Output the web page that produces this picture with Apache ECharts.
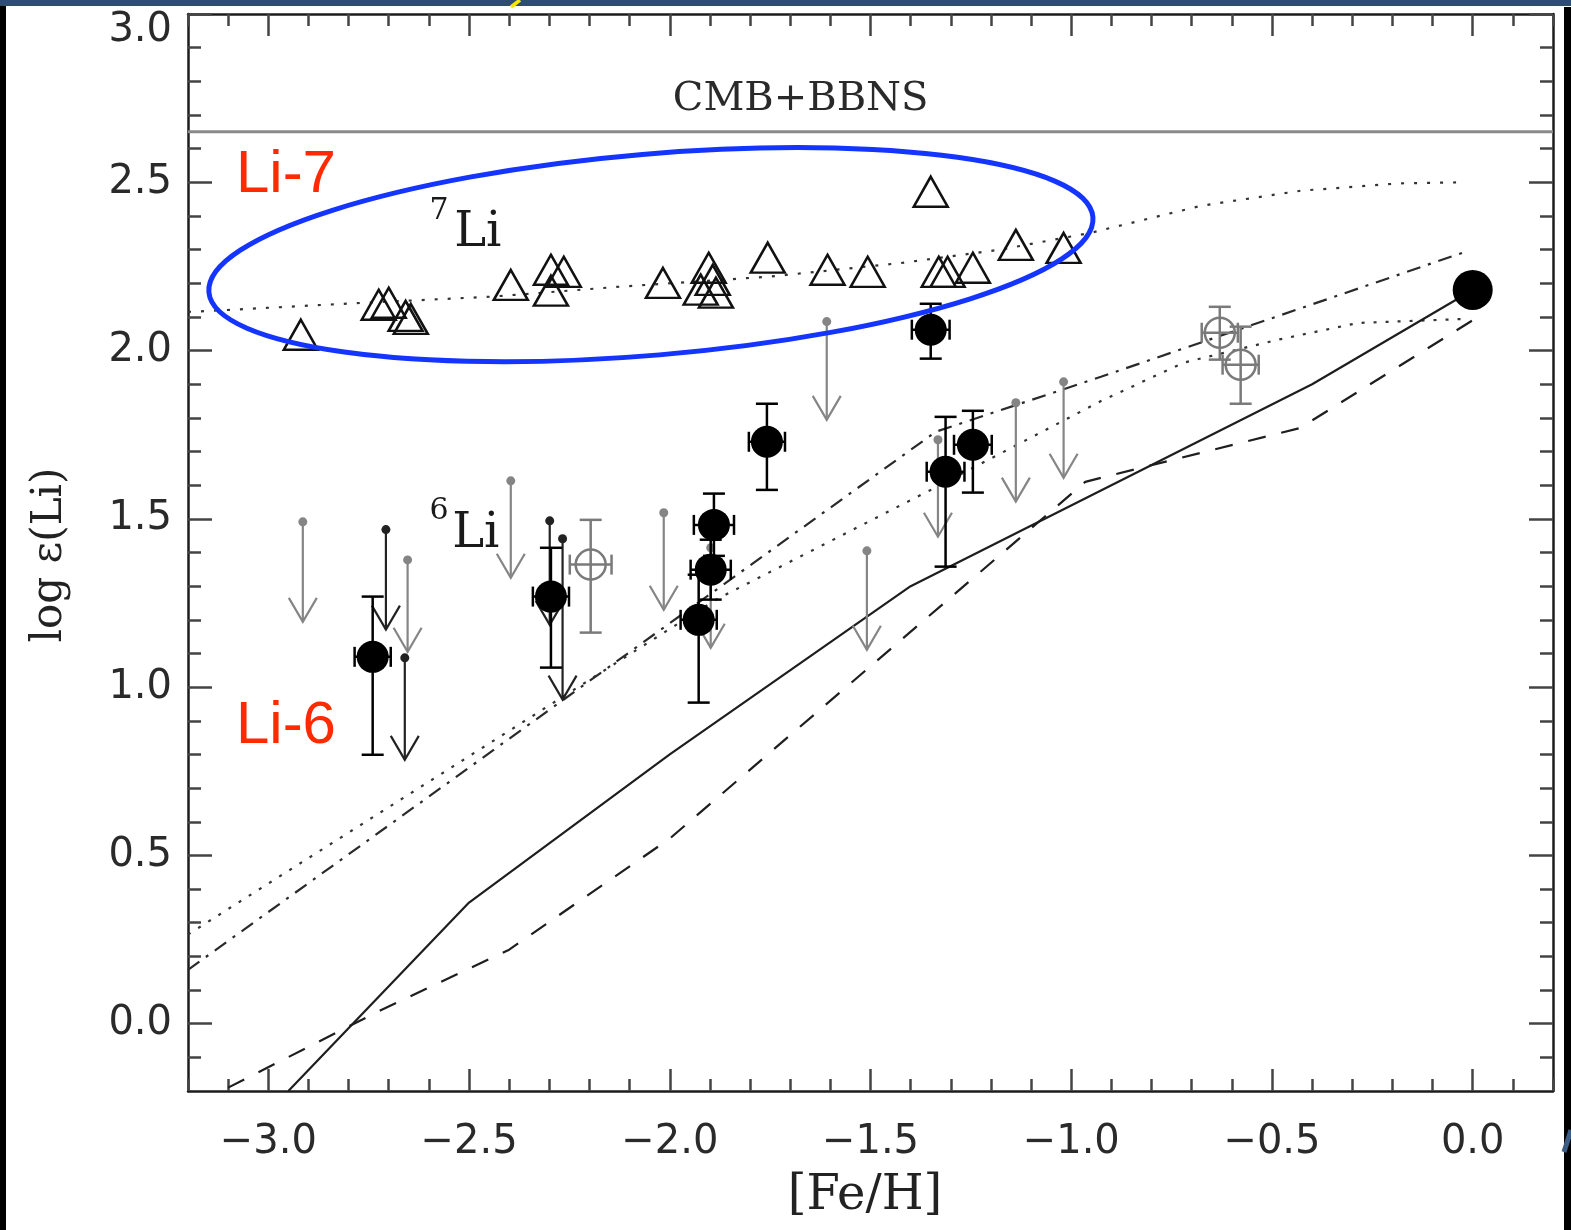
<!DOCTYPE html>
<html>
<head>
<meta charset="utf-8">
<title>Lithium abundances vs [Fe/H]</title>
<script src="https://cdn.jsdelivr.net/npm/echarts@6/dist/echarts.min.js"></script>
<style>
  html, body { margin: 0; padding: 0; background: #fff; }
  #chart { width: 1571px; height: 1230px; }
</style>
</head>
<body>
<div id="chart"></div>
<script>
// ---- axis ticks ----
const xMajorTicks = [-3.0, -2.5, -2.0, -1.5, -1.0, -0.5, 0.0];
const xMinorTicks = [-3.2, -3.1, -2.9, -2.8, -2.7, -2.6, -2.4, -2.3, -2.2, -2.1,
                     -1.9, -1.8, -1.7, -1.6, -1.4, -1.3, -1.2, -1.1, -0.9, -0.8,
                     -0.7, -0.6, -0.4, -0.3, -0.2, -0.1, 0.1, 0.2];
const yMajorTicks = [0.0, 0.5, 1.0, 1.5, 2.0, 2.5, 3.0];
const yMinorTicks = [-0.1, 0.1, 0.2, 0.3, 0.4, 0.6, 0.7, 0.8, 0.9, 1.1, 1.2, 1.3, 1.4,
                     1.6, 1.7, 1.8, 1.9, 2.1, 2.2, 2.3, 2.4, 2.6, 2.7, 2.8, 2.9];

// ---- primordial plateau (CMB + BBN) ----
const cmbLevel = 2.65;

// ---- 7Li abundances [Fe/H, log eps] ----
const li7Stars = [
  [-2.919, 2.047], [-2.725, 2.136], [-2.700, 2.142], [-2.658, 2.103], [-2.645, 2.094],
  [-2.396, 2.195], [-2.296, 2.240], [-2.264, 2.234], [-2.296, 2.178], [-2.017, 2.201],
  [-1.923, 2.181], [-1.903, 2.246], [-1.893, 2.210], [-1.885, 2.172], [-1.756, 2.276],
  [-1.607, 2.240], [-1.507, 2.234], [-1.350, 2.472], [-1.330, 2.234], [-1.308, 2.234],
  [-1.245, 2.246], [-1.138, 2.314], [-1.019, 2.305]
];

// ---- 6Li detections [Fe/H, log eps, lower, upper, [Fe/H] error] ----
const li6Detections = [
  [-2.740, 1.090, 0.799, 1.269, 0.045],
  [-2.296, 1.269, 1.058, 1.414, 0.045],
  [-1.758, 1.729, 1.586, 1.842, 0.045],
  [-1.890, 1.482, 1.390, 1.575, 0.050],
  [-1.898, 1.349, 1.260, 1.438, 0.050],
  [-1.928, 1.200, 0.954, 1.334, 0.045],
  [-1.350, 2.062, 1.976, 2.139, 0.047],
  [-1.313, 1.640, 1.358, 1.803, 0.047],
  [-1.245, 1.720, 1.578, 1.821, 0.047]
];

// ---- 6Li, other sample [Fe/H, log eps, lower, upper, [Fe/H] error] ----
const li6Other = [
  [-2.197, 1.364, 1.162, 1.497, 0.052],
  [-0.630, 2.053, 1.973, 2.130, 0.045],
  [-0.578, 1.958, 1.842, 2.071, 0.045]
];

// ---- 6Li upper limits [Fe/H, limit, arrow tip] ----
const li6LimitsGrey = [
  [-2.914, 1.491, 1.194], [-2.653, 1.378, 1.105], [-2.396, 1.613, 1.325],
  [-2.015, 1.518, 1.230], [-1.898, 1.414, 1.117], [-1.609, 2.086, 1.794],
  [-1.509, 1.405, 1.111], [-1.332, 1.735, 1.447], [-1.138, 1.845, 1.551],
  [-1.019, 1.907, 1.622]
];
const li6LimitsBlack = [
  [-2.707, 1.468, 1.171], [-2.660, 1.087, 0.784], [-2.299, 1.494, 1.185],
  [-2.267, 1.441, 0.963]
];

// ---- solar system value ----
const solarLi = [[0.0, 2.18]];

// ---- evolution models ----
const model7Li = [
  [-3.20, 2.115], [-3.143, 2.118], [-2.795, 2.140], [-2.446, 2.160], [-2.122, 2.190],
  [-1.748, 2.220], [-1.425, 2.260], [-1.176, 2.300], [-0.951, 2.350], [-0.677, 2.430],
  [-0.428, 2.475], [-0.180, 2.497], [-0.017, 2.500]
];
const model6LiDashDot = [[-3.2, 0.16], [-1.337, 1.759], [-0.926, 1.922], [-0.017, 2.294]];
const model6LiDotted = [
  [-3.2, 0.265], [-1.885, 1.26], [-1.35, 1.586], [-0.926, 1.85], [-0.72, 1.964],
  [-0.486, 2.032], [-0.286, 2.082], [-0.02, 2.094]
];
const model6LiSolid = [[-2.95, -0.2], [-2.5, 0.36], [-2.0, 0.80], [-1.4, 1.30], [-0.4, 1.90], [0.0, 2.18]];
const model6LiDashed = [
  [-3.10, -0.19], [-2.72, 0.04], [-2.40, 0.22], [-2.0, 0.55], [-0.965, 1.61],
  [-0.43, 1.77], [0.0, 2.09]
];

// ---- styling ----
const INK = '#1c1c1c';
const GREY = '#7a7a7a';
const SANS = '"DejaVu Sans", "Liberation Sans", sans-serif';
const SERIF = '"DejaVu Serif", "Liberation Serif", serif';
const RED = '#ff2a00';
const BLUE = '#1434ff';

const fmt = v => {
  const s = Math.abs(v).toFixed(1);
  return v < -1e-9 ? '\u2212' + s : s;
};

const frameLine = { show: true, onZero: false, lineStyle: { color: INK, width: 2.5 } };
const hiddenLine = { show: false, onZero: false };
const tickStyle = { color: '#444', width: 2.5 };

function xAxisDef(position, ticks, len, withLabels) {
  return {
    type: 'value', min: -3.2, max: 0.2, position: position, offset: 0,
    axisLine: withLabels !== null ? frameLine : hiddenLine,
    axisTick: { show: true, inside: true, length: len, customValues: ticks, lineStyle: tickStyle },
    axisLabel: withLabels ? {
      show: true, customValues: xMajorTicks, formatter: fmt, margin: 32,
      fontFamily: SANS, fontSize: 40, color: '#2a2a2a'
    } : { show: false },
    splitLine: { show: false }
  };
}
function yAxisDef(position, ticks, len, withLabels) {
  return {
    type: 'value', min: -0.2, max: 3.0, position: position, offset: 0,
    axisLine: withLabels !== null ? frameLine : hiddenLine,
    axisTick: { show: true, inside: true, length: len, customValues: ticks, lineStyle: tickStyle },
    axisLabel: withLabels ? {
      show: true, customValues: yMajorTicks, margin: 16,
      formatter: v => Math.abs(v - 3.0) < 1e-9 ? '{top|3.0}' : fmt(v),
      fontFamily: SANS, fontSize: 40, color: '#2a2a2a',
      rich: { top: { padding: [34, 0, 0, 0], fontFamily: SANS, fontSize: 40, color: '#2a2a2a' } }
    } : { show: false },
    splitLine: { show: false }
  };
}

function lineSeries(data, type, color, width) {
  return {
    type: 'line', data: data, xAxisIndex: 0, yAxisIndex: 0,
    symbol: 'none', smooth: false, silent: true, z: 2,
    lineStyle: { color: color, width: width, type: type }
  };
}

function renderErr(filled) {
  return function (params, api) {
    const x = api.value(0), y = api.value(1);
    const c = api.coord([x, y]);
    const lo = api.coord([x, api.value(2)]);
    const hi = api.coord([x, api.value(3)]);
    const xl = api.coord([x - api.value(4), y]);
    const xr = api.coord([x + api.value(4), y]);
    const col = filled ? '#000' : GREY;
    const st = { stroke: col, lineWidth: 2.5, fill: null };
    const cap = 11, vcap = 10;
    return {
      type: 'group',
      children: [
        { type: 'line', shape: { x1: c[0], y1: hi[1], x2: c[0], y2: lo[1] }, style: st },
        { type: 'line', shape: { x1: c[0] - cap, y1: hi[1], x2: c[0] + cap, y2: hi[1] }, style: st },
        { type: 'line', shape: { x1: c[0] - cap, y1: lo[1], x2: c[0] + cap, y2: lo[1] }, style: st },
        { type: 'line', shape: { x1: xl[0], y1: c[1], x2: xr[0], y2: c[1] }, style: st },
        { type: 'line', shape: { x1: xl[0], y1: c[1] - vcap, x2: xl[0], y2: c[1] + vcap }, style: st },
        { type: 'line', shape: { x1: xr[0], y1: c[1] - vcap, x2: xr[0], y2: c[1] + vcap }, style: st },
        filled
          ? { type: 'circle', shape: { cx: c[0], cy: c[1], r: 16 }, style: { fill: '#000' } }
          : { type: 'circle', shape: { cx: c[0], cy: c[1], r: 15 }, style: { fill: null, stroke: GREY, lineWidth: 2.5 } }
      ]
    };
  };
}

function renderLimit(color) {
  return function (params, api) {
    const x = api.value(0);
    const top = api.coord([x, api.value(1)]);
    const tip = api.coord([x, api.value(2)]);
    const st = { stroke: color, lineWidth: 2.2, fill: null };
    return {
      type: 'group',
      children: [
        { type: 'line', shape: { x1: top[0], y1: top[1], x2: tip[0], y2: tip[1] }, style: st },
        { type: 'polyline', shape: { points: [[tip[0] - 14, tip[1] - 24], [tip[0], tip[1]], [tip[0] + 14, tip[1] - 24]] }, style: st },
        { type: 'circle', shape: { cx: top[0], cy: top[1], r: 4.5 }, style: { fill: color } }
      ]
    };
  };
}

const chart = echarts.init(document.getElementById('chart'), null, { renderer: 'canvas', width: 1571, height: 1230 });

chart.setOption({
  backgroundColor: '#ffffff',
  animation: false,
  grid: { left: 188, top: 14, width: 1365, height: 1077, containLabel: false },
  xAxis: [
    xAxisDef('bottom', xMajorTicks, 22, true),
    xAxisDef('bottom', xMinorTicks, 12, null),
    xAxisDef('top', xMajorTicks, 22, false),
    xAxisDef('top', xMinorTicks, 12, null)
  ],
  yAxis: [
    yAxisDef('left', yMajorTicks, 24, true),
    yAxisDef('left', yMinorTicks, 13, null),
    yAxisDef('right', yMajorTicks, 24, false),
    yAxisDef('right', yMinorTicks, 13, null)
  ],
  series: [
    lineSeries([[-3.2, cmbLevel], [0.2, cmbLevel]], 'solid', '#8a8a8a', 3),
    lineSeries(model7Li, [3, 10], '#333', 2.2),
    lineSeries(model6LiDashDot, [14, 8, 3, 8], '#2a2a2a', 2.2),
    lineSeries(model6LiDotted, [3, 9], '#333', 2.2),
    lineSeries(model6LiSolid, 'solid', '#1e1e1e', 2.2),
    lineSeries(model6LiDashed, [18, 16], '#1e1e1e', 2.2),
    {
      type: 'scatter', data: li7Stars, symbol: 'triangle', symbolSize: [34, 30], z: 4, silent: true,
      itemStyle: { color: 'rgba(0,0,0,0)', borderColor: '#111', borderWidth: 2.5, opacity: 1 }
    },
    { type: 'custom', data: li6LimitsGrey, renderItem: renderLimit('#858585'), encode: { x: 0, y: 1 }, z: 5, silent: true },
    { type: 'custom', data: li6LimitsBlack, renderItem: renderLimit('#222'), encode: { x: 0, y: 1 }, z: 5, silent: true },
    { type: 'custom', data: li6Other, renderItem: renderErr(false), encode: { x: 0, y: 1 }, z: 6, silent: true },
    { type: 'custom', data: li6Detections, renderItem: renderErr(true), encode: { x: 0, y: 1 }, z: 7, silent: true },
    {
      type: 'scatter', data: solarLi, symbol: 'circle', symbolSize: 40, z: 7, silent: true,
      itemStyle: { color: '#000', opacity: 1 }
    }
  ]
});

// ---- annotations placed in data coordinates ----
const px = (x, y) => chart.convertToPixel({ xAxisIndex: 0, yAxisIndex: 0 }, [x, y]);

function label(pos, text, font, fill, extra) {
  return Object.assign({
    type: 'text', x: pos[0], y: pos[1], z: 20, silent: true,
    style: {
      text: text, font: font, fill: fill,
      align: 'center', verticalAlign: 'middle',
      textAlign: 'center', textVerticalAlign: 'middle'
    }
  }, extra || {});
}

const ellipseCenter = px(-2.047, 2.285);

chart.setOption({
  graphic: [
    label(px(-1.674, 2.745), 'CMB+BBNS', '40px ' + SERIF, '#2a2a2a'),
    label(px(-2.478, 2.347), 'Li', '48px ' + SERIF, '#1a1a1a'),
    label(px(-2.575, 2.413), '7', '30px ' + SERIF, '#1a1a1a'),
    label(px(-2.483, 1.453), 'Li', '48px ' + SERIF, '#1a1a1a'),
    label(px(-2.575, 1.524), '6', '30px ' + SERIF, '#1a1a1a'),
    label(px(-2.956, 2.520), 'Li-7', '60px "Liberation Sans", Arial, sans-serif', RED),
    label(px(-2.956, 0.882), 'Li-6', '60px "Liberation Sans", Arial, sans-serif', RED),
    {
      type: 'ellipse', z: 19, silent: true,
      x: ellipseCenter[0], y: ellipseCenter[1], rotation: 0.0846,
      shape: { cx: 0, cy: 0, rx: 443.6, ry: 100.6 },
      style: { fill: null, stroke: BLUE, lineWidth: 5 }
    },
    label([865, 1197], '[Fe/H]', '48px ' + SERIF, '#222'),
    label([50, 555], 'log \u03b5(Li)', '42px ' + SERIF, '#222', { rotation: Math.PI / 2 }),
    // slide border
    { type: 'rect', z: 30, silent: true, shape: { x: 0, y: 0, width: 1571, height: 6 }, style: { fill: '#2f4d70' } },
    { type: 'rect', z: 30, silent: true, shape: { x: 0, y: 6, width: 6, height: 1224 }, style: { fill: '#000' } },
    { type: 'rect', z: 30, silent: true, shape: { x: 1564, y: 7, width: 7, height: 1223 }, style: { fill: '#000' } },
    { type: 'line', z: 31, silent: true, shape: { x1: 511, y1: 7, x2: 520, y2: 0 }, style: { stroke: '#ffe600', lineWidth: 3.5 } },
    { type: 'line', z: 31, silent: true, shape: { x1: 1564, y1: 1152, x2: 1571, y2: 1130 }, style: { stroke: '#3b5d85', lineWidth: 5 } }
  ]
});
</script>
</body>
</html>
